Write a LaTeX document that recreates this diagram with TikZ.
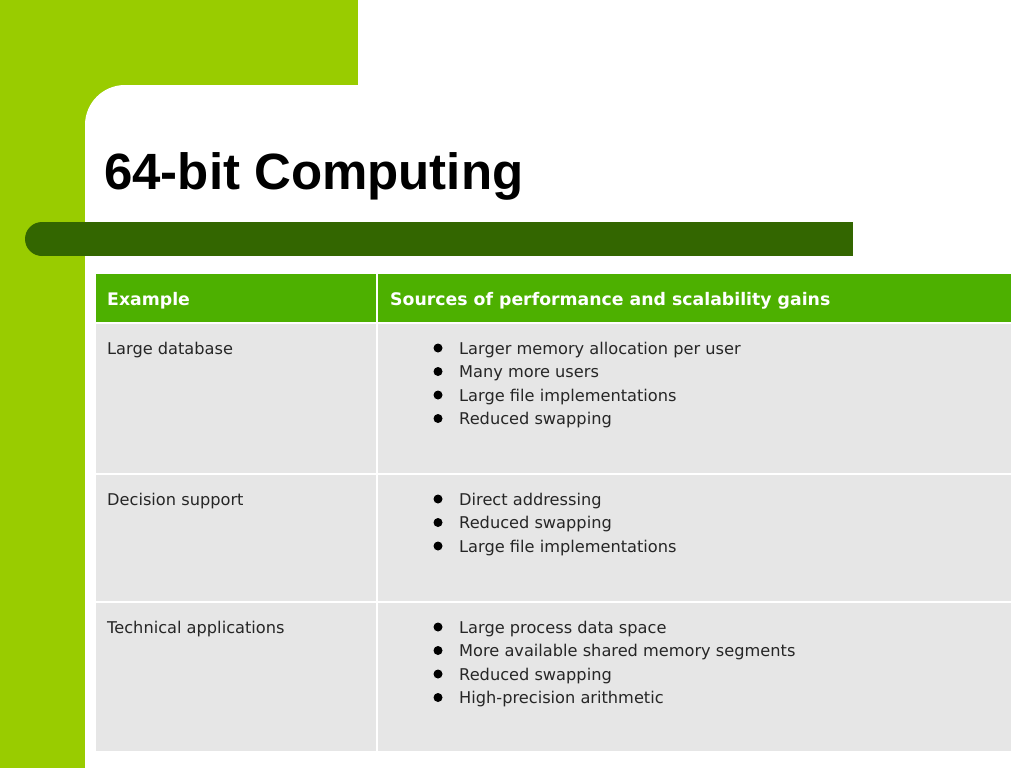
\documentclass[tikz,border=0pt]{standalone}
\usepackage{fontspec}
\setmainfont{DejaVu Sans}
\newfontfamily\titlefont{Liberation Sans}
\definecolor{lg}{HTML}{99CC00}
\definecolor{dg}{HTML}{336600}
\definecolor{hg}{HTML}{4DB000}
\definecolor{cellg}{HTML}{E6E6E6}
\tikzset{cell/.style={fill=cellg,draw=white,line width=1.5pt},
 hdr/.style={fill=hg,draw=white,line width=1.5pt},
 txt/.style={anchor=base west,inner sep=0,font=\fontsize{16.2}{19}\selectfont,text=black!85},
 htxt/.style={anchor=base west,inner sep=0,font=\fontsize{17.3}{20}\selectfont\bfseries,text=white},
 bul/.style={circle,fill=black,inner sep=0,minimum size=9pt}}
\begin{document}
\begin{tikzpicture}[x=1pt,y=-1pt]
\useasboundingbox (0,0) rectangle (1024,768);
\fill[white] (0,0) rectangle (1024,768);
\fill[lg] (0,0) rectangle (358,85);
\fill[lg] (0,0) rectangle (85,768);
\fill[lg] (85,85) rectangle (140,140);
\fill[white] (85,768) [rounded corners=40]-- (85,85) [sharp corners]-- (1024,85) -- (1024,768) -- cycle;
\node[anchor=base west,inner sep=0,font=\titlefont\fontsize{51}{60}\selectfont\bfseries] (title) at (104,189) {64-bit Computing};
\fill[dg] (42,222) rectangle (853,256);
\fill[dg] (42,239) circle (17);
% table
\draw[hdr] (95,273) rectangle (377,323);
\draw[hdr] (377,273) rectangle (1012,323);
\draw[cell] (95,323) rectangle (377,474);
\draw[cell] (377,323) rectangle (1012,474);
\draw[cell] (95,474) rectangle (377,602);
\draw[cell] (377,474) rectangle (1012,602);
\draw[cell] (95,602) rectangle (377,752);
\draw[cell] (377,602) rectangle (1012,752);
\node[htxt] (h1) at (107,305) {Example};
\node[htxt] (h2) at (390,305) {Sources of performance and scalability gains};
\node[txt] (r1) at (107,354) {Large database};
\node[txt] (r2) at (107,505) {Decision support};
\node[txt] (r3) at (107,633) {Technical applications};
\foreach \y/\t in {354/Larger memory allocation per user,377.5/Many more users,401/Large file implementations,424.5/Reduced swapping,
505/Direct addressing,528.5/Reduced swapping,552/Large file implementations,
633/Large process data space,656.5/More available shared memory segments,680/Reduced swapping,703.5/High-precision arithmetic}{
 \node[bul] at (438,\y-6) {};
 \node[txt] at (459,\y) {\t};
}
\end{tikzpicture}
\end{document}
